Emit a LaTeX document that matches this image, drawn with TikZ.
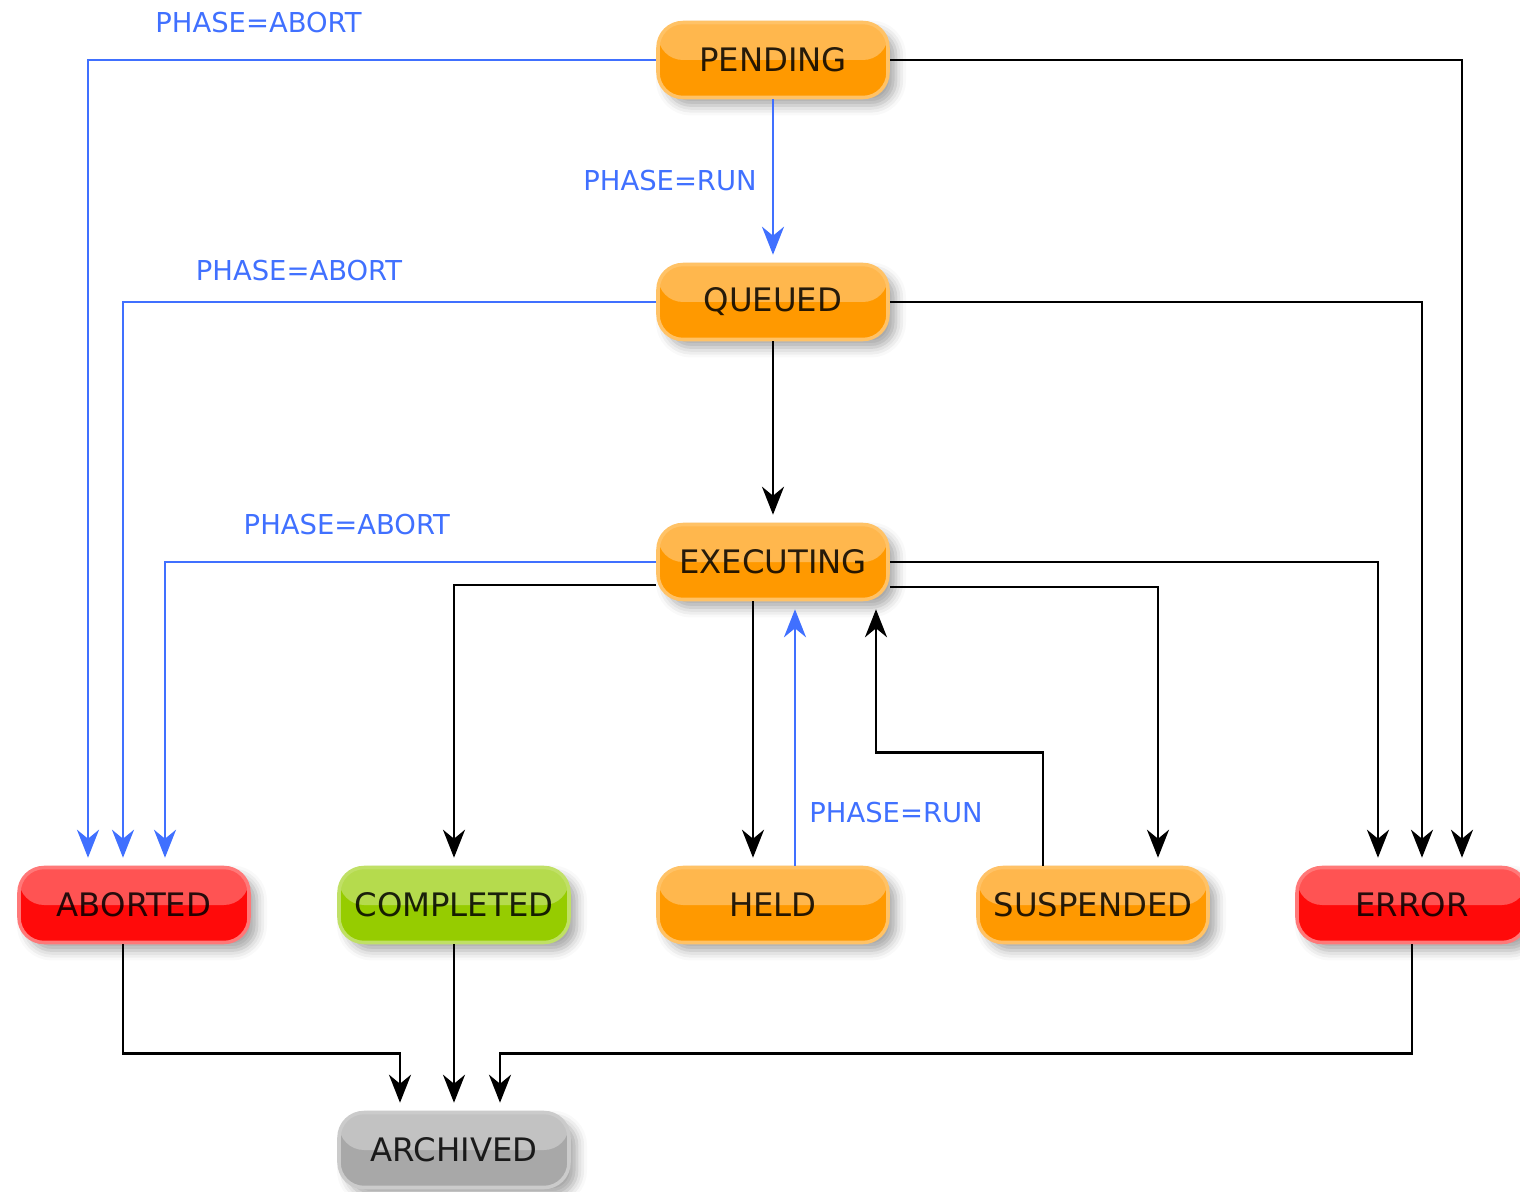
\documentclass[tikz,border=0pt]{standalone}
\usepackage{fontspec}
\setmainfont{DejaVu Sans}
\usetikzlibrary{arrows.meta,shadows.blur}
\definecolor{uwsOrange}{RGB}{255,153,0}
\definecolor{uwsRed}{RGB}{255,10,10}
\definecolor{uwsGreen}{RGB}{150,204,0}
\definecolor{uwsGray}{RGB}{168,168,168}
\definecolor{uwsBlue}{RGB}{64,112,255}
\tikzset{
  phase/.style={rounded corners=2.5mm, minimum width=23mm, minimum height=7.5mm,
    line width=1pt, text opacity=0.85, font=\fontsize{9.2}{10}\selectfont,
    blur shadow={shadow xshift=0.8mm, shadow yshift=-0.8mm, shadow blur radius=1mm, shadow opacity=35},
    path picture={\fill[white,opacity=0.3] (path picture bounding box.north west)
      rectangle (path picture bounding box.east);}},
  busy/.style={phase, fill=uwsOrange, draw=uwsOrange!60!white},
  failed/.style={phase, fill=uwsRed, draw=uwsRed!55!white},
  done/.style={phase, fill=uwsGreen, draw=uwsGreen!60!white},
  stored/.style={phase, fill=uwsGray, draw=uwsGray!60!white},
  flow/.style={-{Stealth[length=2.8mm,width=2.2mm,inset=0.9mm]}, line width=0.8pt, shorten >=0.8mm},
  abort/.style={flow, uwsBlue},
  cond/.style={text=uwsBlue, font=\fontsize{7.8}{9}\selectfont, inner sep=0pt}
}
\begin{document}
\begin{tikzpicture}
  \useasboundingbox (0,0) rectangle (15.2,11.91);
  % states
  \node[busy] (pend) at (7.73,11.31) {PENDING};
  \node[busy] (que) at (7.73,8.89) {QUEUED};
  \node[busy] (exe) at (7.73,6.29) {EXECUTING};
  \node[failed] (ab) at (1.34,2.86) {ABORTED};
  \node[done] (comp) at (4.54,2.86) {COMPLETED};
  \node[busy] (held) at (7.73,2.86) {HELD};
  \node[busy] (susp) at (10.93,2.86) {SUSPENDED};
  \node[failed] (err) at (14.12,2.86) {ERROR};
  \node[stored] (arch) at (4.54,0.41) {ARCHIVED};
  % abort transitions
  \draw[abort] (pend.west) -| ([xshift=-4.6mm]ab.north) node[cond, above=2.6mm, pos=0.35] {PHASE=ABORT};
  \draw[abort] (que.west) -| ([xshift=-1.1mm]ab.north) node[cond, above=2mm, pos=0.335] {PHASE=ABORT};
  \draw[abort] (exe.west) -| ([xshift=3.1mm]ab.north) node[cond, above=2.6mm, pos=0.315] {PHASE=ABORT};
  % run transitions
  \draw[abort] (pend.south) -- (que.north) node[cond, left=1.5mm, pos=0.5] {PHASE=RUN};
  \draw[abort] ([xshift=2.2mm]held.north) -- ([xshift=2.2mm]exe.south) node[cond, right=1.3mm, pos=0.2] {PHASE=RUN};
  % other transitions
  \draw[flow] (que.south) -- (exe.north);
  \draw[flow] ([yshift=-2.3mm]exe.west) -| (comp.north);
  \draw[flow] ([xshift=-2mm]exe.south) -- ([xshift=-2mm]held.north);
  \draw[flow] ([yshift=-2.5mm]exe.east) -| ([xshift=6.5mm]susp.north);
  \draw[flow] ([xshift=-5mm]susp.north) -- ++(0,1.13) -| ([xshift=10.3mm]exe.south);
  \draw[flow] (pend.east) -| ([xshift=5mm]err.north);
  \draw[flow] (que.east) -| ([xshift=1mm]err.north);
  \draw[flow] (exe.east) -| ([xshift=-3.4mm]err.north);
  % archiving
  \draw[flow] ([xshift=-1.1mm]ab.south) -- ++(0,-1.09) -| ([xshift=-5.4mm]arch.north);
  \draw[flow] (comp.south) -- (arch.north);
  \draw[flow] (err.south) -- ++(0,-1.09) -| ([xshift=4.6mm]arch.north);
\end{tikzpicture}
\end{document}
